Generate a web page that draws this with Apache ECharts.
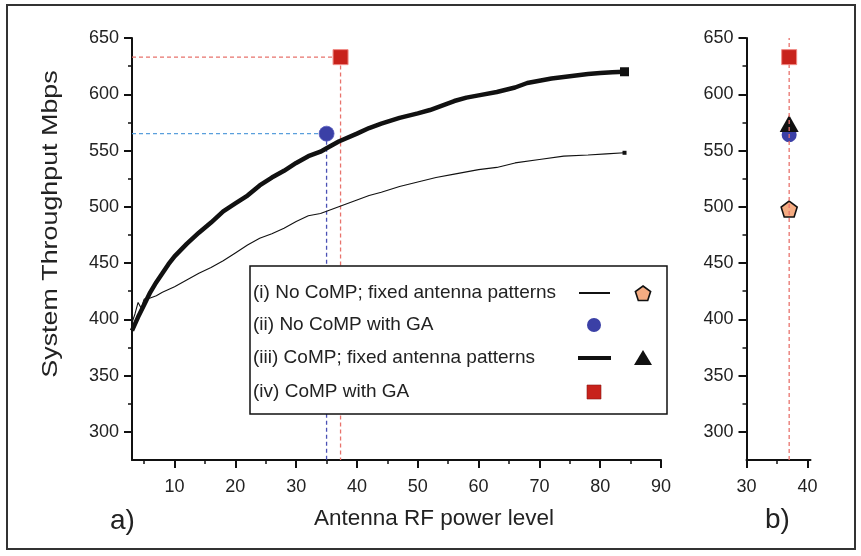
<!DOCTYPE html>
<html><head><meta charset="utf-8">
<script src="https://cdn.jsdelivr.net/npm/echarts@6/dist/echarts.min.js"></script>
<style>html,body{margin:0;padding:0;background:#fff}#c{width:861px;height:556px}</style>
</head><body><div id="c"></div>
<script>
// (iii) CoMP; fixed antenna patterns (thick curve)
const compFixedX = [3,4,5,6,7,8,9,10,12,14,16,18,20,22,24,26,28,30,32,34,35,37,40,42,44,47,50,52,54,56,58,60,63,66,68,70,72,75,78,80,82,84];
const compFixedY = [390,402,413,424,433,441,449,456,467,477,486,496,503,510,519,526,532,539,545,549,552,558,565,570,574,579,583,586,590,594,597,599,602,606,610,612,614,616,618,619,619.5,620];
// (i) No CoMP; fixed antenna patterns (thin curve)
const noCompFixedX = [3,3.5,4,4.5,5,6,7,8,10,12,14,16,18,20,22,24,26,28,30,32,34,35,37,40,42,44,47,50,53,56,60,63,66,70,74,78,81,84];
const noCompFixedY = [397,405,415,410,418,419,421,424,429,435,441,446,452,459,466,472,476,481,487,492,494,496,500,506,510,513,518,522,526,529,533,535,539,542,545,546,547,548];
// GA results, panel a)
const noCompGA_a = [35, 565];
const compGA_a = [37.3, 633];
// panel b) values at power level 37
const bPower = 37;
const bNoCompFixed = 498;
const bNoCompGA = 564;
const bCompFixed = 574;
const bCompGA = 633;
// axis ticks
const yMajor = [300,350,400,450,500,550,600,650];
const yMinor = [325,375,425,475,525,575,625];
const xMajorA = [10,20,30,40,50,60,70,80,90];
const xMinorA = [5,15,25,35,45,55,65,75,85];
const xMajorB = [30,40];
const xMinorB = [35];
const legendLabels = ['(i) No CoMP; fixed antenna patterns','(ii) No CoMP with GA','(iii) CoMP; fixed antenna patterns','(iv) CoMP with GA'];

const FF = '"Liberation Sans", Arial, Helvetica, sans-serif';
const INK = '#111';
const yMin = 275, yMax = 650;

function zip(a, b){ return a.map((v,i)=>[v,b[i]]); }
const pentPath = 'path://M0,-1 L0.951,-0.309 L0.588,0.809 L-0.588,0.809 L-0.951,-0.309 Z';

function yAxes(gi){
  return [
    {gridIndex:gi, type:'value', min:yMin, max:yMax, position:'left',
     axisLine:{show:true, onZero:false, lineStyle:{color:INK, width:2}},
     axisTick:{show:true, inside:false, length:8, customValues:yMajor, lineStyle:{color:INK, width:2}},
     axisLabel:{show:true, customValues:yMajor, margin:13, fontSize:18, color:'#222', fontFamily:FF},
     splitLine:{show:false}},
    {gridIndex:gi, type:'value', min:yMin, max:yMax, position:'left',
     axisLine:{show:false},
     axisTick:{show:true, inside:false, length:4, customValues:yMinor, lineStyle:{color:INK, width:1.5}},
     axisLabel:{show:false}, splitLine:{show:false}}
  ];
}
function xAxes(gi, mn, mx, major, minor){
  return [
    {gridIndex:gi, type:'value', min:mn, max:mx, position:'bottom',
     axisLine:{show:true, onZero:false, lineStyle:{color:INK, width:2}},
     axisTick:{show:true, inside:false, length:8, customValues:major, lineStyle:{color:INK, width:2}},
     axisLabel:{show:true, customValues:major, margin:18, fontSize:18, color:'#222', fontFamily:FF},
     splitLine:{show:false}},
    {gridIndex:gi, type:'value', min:mn, max:mx, position:'bottom',
     axisLine:{show:false},
     axisTick:{show:true, inside:false, length:4, customValues:minor, lineStyle:{color:INK, width:1.5}},
     axisLabel:{show:false}, splitLine:{show:false}}
  ];
}

const dashRed = {color:'#e8736c', width:1.3, type:[4,3]};

const series = [
  {type:'line', xAxisIndex:0, yAxisIndex:0, data:zip(noCompFixedX, noCompFixedY), symbol:'none', lineStyle:{color:INK, width:1.1}, z:3},
  {type:'line', xAxisIndex:0, yAxisIndex:0, data:zip(compFixedX, compFixedY), symbol:'none', lineStyle:{color:INK, width:4.5}, z:4},
  // end markers
  {type:'scatter', xAxisIndex:0, yAxisIndex:0, data:[[compFixedX[compFixedX.length-1], compFixedY[compFixedY.length-1]]], symbol:'rect', symbolSize:9, itemStyle:{color:INK, opacity:1}, z:5},
  {type:'scatter', xAxisIndex:0, yAxisIndex:0, data:[[noCompFixedX[noCompFixedX.length-1], noCompFixedY[noCompFixedY.length-1]]], symbol:'rect', symbolSize:4, itemStyle:{color:INK, opacity:1}, z:5},
  // guides panel a
  {type:'line', xAxisIndex:0, yAxisIndex:0, data:[[3, noCompGA_a[1]],[noCompGA_a[0], noCompGA_a[1]]], symbol:'none', lineStyle:{color:'#5a9fdc', width:1.3, type:[4,3]}, z:2},
  {type:'line', xAxisIndex:0, yAxisIndex:0, data:[[noCompGA_a[0], noCompGA_a[1]],[noCompGA_a[0], yMin]], symbol:'none', lineStyle:{color:'#4a50b4', width:1.3, type:[4,3]}, z:2},
  {type:'line', xAxisIndex:0, yAxisIndex:0, data:[[3, compGA_a[1]],[compGA_a[0], compGA_a[1]],[compGA_a[0], yMin]], symbol:'none', lineStyle:dashRed, z:2},
  {type:'scatter', xAxisIndex:0, yAxisIndex:0, data:[noCompGA_a], symbol:'circle', symbolSize:15, itemStyle:{color:'#3b40a6', borderColor:'#5a5fc0', borderWidth:0.8, opacity:1}, z:6},
  {type:'scatter', xAxisIndex:0, yAxisIndex:0, data:[compGA_a], symbol:'rect', symbolSize:15, itemStyle:{color:'#c8221b', borderColor:'#f08a84', borderWidth:1, opacity:1}, z:6},
  // panel b
  {type:'scatter', xAxisIndex:2, yAxisIndex:2, data:[[bPower, bNoCompGA]], symbol:'circle', symbolSize:15, itemStyle:{color:'#3b40a6', opacity:1}, z:5},
  {type:'scatter', xAxisIndex:2, yAxisIndex:2, data:[[bPower, bCompFixed]], symbol:'triangle', symbolSize:[19,17], itemStyle:{color:INK, opacity:1}, z:6},
  {type:'scatter', xAxisIndex:2, yAxisIndex:2, data:[[bPower, bNoCompFixed]], symbol:pentPath, symbolSize:16, itemStyle:{color:'#f5ac82', borderColor:INK, borderWidth:1.6, opacity:1}, z:6},
  {type:'line', xAxisIndex:2, yAxisIndex:2, data:[[bPower, yMin],[bPower, yMax]], symbol:'none', lineStyle:dashRed, z:7},
  {type:'scatter', xAxisIndex:2, yAxisIndex:2, data:[[bPower, bCompGA]], symbol:'rect', symbolSize:15, itemStyle:{color:'#c8221b', borderColor:'#f08a84', borderWidth:1, opacity:1}, z:8}
];

// legend graphics
function pentPoints(cx, cy, r){
  const pts = [];
  for (let k=0;k<5;k++){ const a = (-90 + 72*k) * Math.PI/180; pts.push([cx + r*Math.cos(a), cy + r*Math.sin(a)]); }
  return pts;
}
const rowsY = [293, 325, 358, 392];
const graphics = [
  {type:'rect', z:100, shape:{x:7, y:5, width:848, height:544}, style:{fill:'none', stroke:'#333', lineWidth:2}},
  {type:'rect', z:100, shape:{x:250, y:266, width:417, height:148}, style:{fill:'#fff', stroke:INK, lineWidth:1.5}},
  ...legendLabels.map((t,i)=>({type:'text', z:101, style:{text:t, x:253, y:rowsY[i], font:'19px '+FF, fill:'#222', verticalAlign:'middle', textVerticalAlign:'middle'}})),
  {type:'line', z:101, shape:{x1:579, y1:rowsY[0], x2:610, y2:rowsY[0]}, style:{stroke:INK, lineWidth:2}},
  {type:'line', z:101, shape:{x1:578, y1:rowsY[2], x2:611, y2:rowsY[2]}, style:{stroke:INK, lineWidth:4}},
  {type:'polygon', z:101, shape:{points:pentPoints(643, rowsY[0]+1, 8)}, style:{fill:'#f5ac82', stroke:INK, lineWidth:1.6}},
  {type:'circle', z:101, shape:{cx:594, cy:rowsY[1], r:7}, style:{fill:'#3b40a6'}},
  {type:'polygon', z:101, shape:{points:[[643,rowsY[2]-8],[652,rowsY[2]+7],[634,rowsY[2]+7]]}, style:{fill:INK}},
  {type:'rect', z:101, shape:{x:587, y:rowsY[3]-7, width:14, height:14}, style:{fill:'#c8221b', stroke:'#8a1a15', lineWidth:0.6}},
  {type:'text', z:101, style:{text:'Antenna RF power level', x:434, y:519, font:'22.5px '+FF, fill:'#222', align:'center', textAlign:'center', verticalAlign:'middle', textVerticalAlign:'middle'}},
  {type:'text', z:101, rotation:Math.PI/2, x:51, y:224, scaleX:1.22, style:{text:'System Throughput Mbps', x:0, y:0, font:'22px '+FF, fill:'#222', align:'center', textAlign:'center', verticalAlign:'middle', textVerticalAlign:'middle'}},
  {type:'text', z:101, style:{text:'a)', x:110, y:521, font:'28px '+FF, fill:'#222', verticalAlign:'middle', textVerticalAlign:'middle'}},
  {type:'text', z:101, style:{text:'b)', x:765, y:520, font:'28px '+FF, fill:'#222', verticalAlign:'middle', textVerticalAlign:'middle'}}
];

const chart = echarts.init(document.getElementById('c'), null, {renderer:'canvas'});
chart.setOption({
  animation:false,
  backgroundColor:'#fff',
  grid:[
    {left:132, top:38, width:529, height:422},
    {left:746.5, top:38, width:64, height:422}
  ],
  xAxis:[...xAxes(0, 3, 90, xMajorA, xMinorA), ...xAxes(1, 30, 40.5, xMajorB, xMinorB)],
  yAxis:[...yAxes(0), ...yAxes(1)],
  series:series,
  graphic:graphics
});
</script></body></html>
